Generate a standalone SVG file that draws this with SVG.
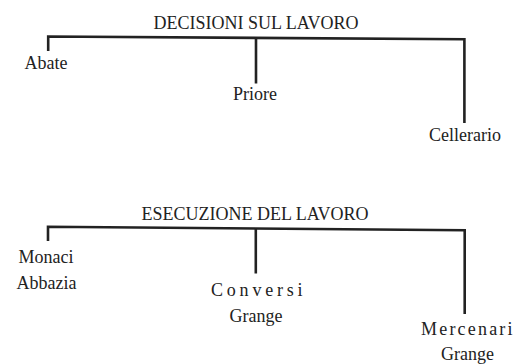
<svg xmlns="http://www.w3.org/2000/svg" width="515" height="364" viewBox="0 0 515 364">
<style>
text{font-family:"Liberation Serif","Times New Roman",serif;font-size:18px;fill:#222}
.m{text-anchor:middle}
.c{fill:none;stroke:#222;stroke-width:2.6;stroke-linejoin:miter}
</style>
<rect width="515" height="364" fill="#fff"/>
<g id="connectors">
<path class="c" d="M48.2,51 V36.5 L464.4,39.3 V123"/>
<path class="c" d="M256,37.8 V83.5"/>
<path class="c" d="M48,241 V226.7 L464.7,230.3 V314"/>
<path class="c" d="M255.8,228.5 V273.5"/>
</g>
<g id="title-decisioni"><text class="m" x="256" y="29">DECISIONI SUL LAVORO</text></g>
<g id="abate"><text class="m" x="46" y="69">Abate</text></g>
<g id="priore"><text class="m" x="255" y="99.5">Priore</text></g>
<g id="cellerario"><text class="m" x="465" y="141">Cellerario</text></g>
<g id="title-esecuzione"><text class="m" x="255" y="220">ESECUZIONE DEL LAVORO</text></g>
<g id="monaci"><text class="m" x="46" y="263">Monaci</text><text class="m" x="46.5" y="289">Abbazia</text></g>
<g id="conversi"><text x="211" y="296" letter-spacing="3.8">Conversi</text><text class="m" x="256" y="322">Grange</text></g>
<g id="mercenari"><text x="421" y="335" letter-spacing="2.2">Mercenari</text><text class="m" x="467.5" y="359.5">Grange</text></g>
</svg>
